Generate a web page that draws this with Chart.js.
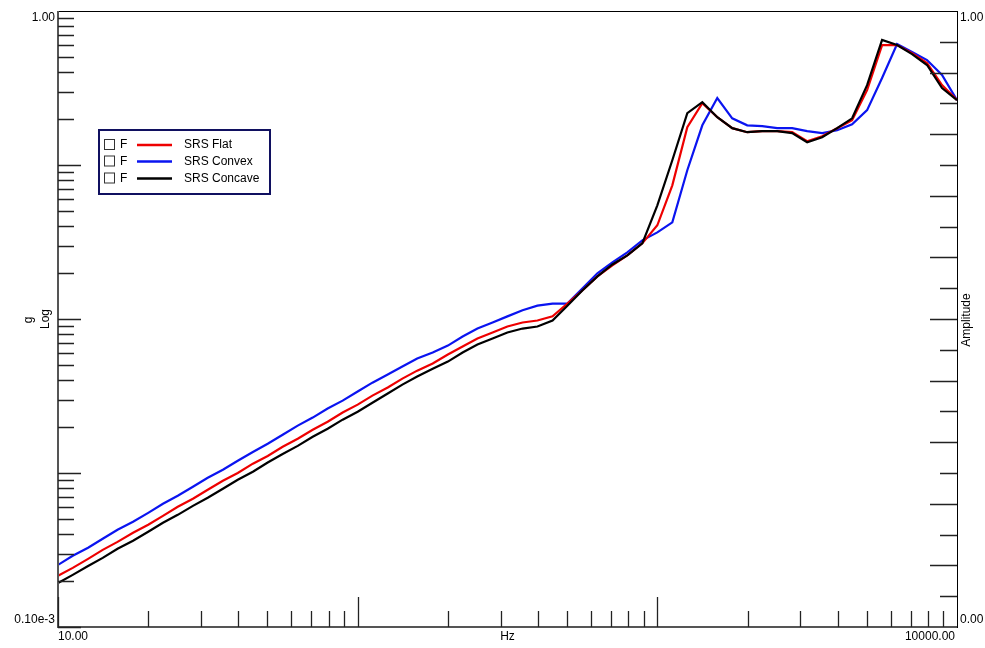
<!DOCTYPE html>
<html><head><meta charset="utf-8">
<script src="https://cdn.jsdelivr.net/npm/chart.js@4.4.1/dist/chart.umd.min.js"></script>
<style>html,body{margin:0;padding:0;background:#fff;}canvas{display:block;}</style>
</head><body>
<canvas id="c" width="985" height="648"></canvas>
<script>
const freqHz = [10, 11.2, 12.6, 14.1, 15.8, 17.8, 20, 22.4, 25.1, 28.2, 31.6, 35.5, 39.8, 44.7, 50.1, 56.2, 63.1, 70.8, 79.4, 89.1,
  100, 112, 126, 141, 158, 178, 200, 224, 251, 282, 316, 355, 398, 447, 501, 562, 631, 708, 794, 891,
  1000, 1122, 1259, 1413, 1585, 1778, 1995, 2239, 2512, 2818, 3162, 3548, 3981, 4467, 5012, 5623, 6310, 7079, 7943, 8913, 10000];
const srsFlat = [2.15e-4, 2.42e-4, 2.77e-4, 3.17e-4, 3.57e-4, 4.09e-4, 4.61e-4, 5.27e-4, 6.03e-4, 6.80e-4, 7.78e-4, 8.90e-4,
  1.00e-3, 1.15e-3, 1.29e-3, 1.48e-3, 1.67e-3, 1.91e-3, 2.15e-3, 2.47e-3, 2.78e-3, 3.18e-3, 3.59e-3, 4.10e-3, 4.62e-3, 5.14e-3,
  5.88e-3, 6.62e-3, 7.47e-3, 8.17e-3, 8.94e-3, 9.49e-3, 9.78e-3, 1.04e-2, 1.26e-2, 1.53e-2, 1.89e-2, 2.23e-2, 2.59e-2, 3.10e-2,
  4.06e-2, 7.38e-2, 0.176, 0.252, 0.2045, 0.1734, 0.1633, 0.1658, 0.1658, 0.1633, 0.1427, 0.1538, 0.1734, 0.1955, 0.306,
  0.601, 0.601, 0.533, 0.459, 0.330, 0.264];
const srsConvex = [2.53e-4, 2.90e-4, 3.27e-4, 3.74e-4, 4.28e-4, 4.82e-4, 5.51e-4, 6.31e-4, 7.11e-4, 8.14e-4, 9.31e-4,
  1.05e-3, 1.20e-3, 1.37e-3, 1.55e-3, 1.77e-3, 2.03e-3, 2.29e-3, 2.62e-3, 2.95e-3, 3.38e-3, 3.86e-3, 4.36e-3, 4.91e-3, 5.54e-3,
  6.06e-3, 6.72e-3, 7.69e-3, 8.67e-3, 9.49e-3, 1.04e-2, 1.14e-2, 1.22e-2, 1.26e-2, 1.26e-2, 1.58e-2, 1.98e-2, 2.33e-2, 2.71e-2,
  3.24e-2, 3.65e-2, 4.24e-2, 9.25e-2, 0.181, 0.272, 0.201, 0.181, 0.179, 0.1734, 0.1734, 0.1658, 0.161, 0.168, 0.184, 0.227,
  0.367, 0.610, 0.541, 0.480, 0.384, 0.264];
const srsConcave = [1.93e-4, 2.18e-4, 2.49e-4, 2.81e-4, 3.22e-4, 3.63e-4, 4.15e-4, 4.75e-4, 5.35e-4, 6.12e-4, 6.90e-4, 7.90e-4, 9.04e-4,
  1.02e-3, 1.17e-3, 1.33e-3, 1.50e-3, 1.72e-3, 1.94e-3, 2.22e-3, 2.50e-3, 2.86e-3, 3.28e-3, 3.75e-3, 4.23e-3, 4.76e-3, 5.29e-3,
  6.06e-3, 6.83e-3, 7.47e-3, 8.17e-3, 8.67e-3, 8.94e-3, 9.78e-3, 1.22e-2, 1.53e-2, 1.89e-2, 2.26e-2, 2.59e-2, 3.10e-2, 5.47e-2,
  0.1074, 0.217, 0.256, 0.2045, 0.1734, 0.1633, 0.1658, 0.1658, 0.161, 0.1406, 0.1515, 0.1734, 0.201, 0.330, 0.648, 0.601,
  0.525, 0.446, 0.316, 0.264];

const seriesNames = ['SRS Flat', 'SRS Convex', 'SRS Concave'];
const seriesColors = ['#ee0000', '#0a14f0', '#000000'];
const leftTickLabels = ['1.00', '0.10e-3'];
const rightTickLabels = ['1.00', '0.00'];
const bottomTickLabels = ['10.00', '10000.00'];
const xTitle = 'Hz', yTitle1 = 'g', yTitle2 = 'Log', y2Title = 'Amplitude';

const toPts = arr => freqHz.map((f, i) => ({x: f, y: arr[i]}));
const FONT = '12px "Liberation Sans", Arial, sans-serif';

const framePlugin = {
  id: 'frame',
  afterDatasetsDraw(chart) {
    const {ctx, chartArea: a, scales: {x, y, y2}} = chart;
    ctx.save();
    // frame
    ctx.strokeStyle = '#000'; ctx.lineWidth = 1;
    ctx.strokeRect(a.left + 0.5, a.top + 0.5, a.right - a.left, a.bottom - a.top);
    ctx.strokeStyle = '#555'; ctx.lineWidth = 2;
    ctx.beginPath();
    ctx.moveTo(a.left, a.top); ctx.lineTo(a.left, a.bottom); ctx.lineTo(a.right, a.bottom);
    ctx.stroke();
    ctx.lineWidth = 1.3; ctx.strokeStyle = '#222';
    ctx.beginPath();
    // left log ticks
    for (let e = -4; e <= -1; e++) {
      for (let m = 1; m <= 9; m++) {
        const v = m * Math.pow(10, e);
        const py = Math.round(y.getPixelForValue(v)) + 0.5;
        const len = m === 1 ? 23 : 16;
        ctx.moveTo(a.left, py); ctx.lineTo(a.left + len, py);
      }
    }
    // bottom log ticks
    for (let e = 1; e <= 3; e++) {
      for (let m = 1; m <= 9; m++) {
        const v = m * Math.pow(10, e);
        const px = Math.round(x.getPixelForValue(v)) + 0.5;
        const len = m === 1 ? 30 : 16;
        ctx.moveTo(px, a.bottom); ctx.lineTo(px, a.bottom - len);
      }
    }
    // right linear ticks
    for (let i = 1; i < 20; i++) {
      const v = i * 0.05;
      const py = Math.round(y2.getPixelForValue(v)) + 0.5;
      const len = (i % 2 === 0) ? 27 : 17;
      ctx.moveTo(a.right, py); ctx.lineTo(a.right - len, py);
    }
    ctx.stroke();

    // labels
    ctx.fillStyle = '#000'; ctx.font = FONT;
    ctx.textBaseline = 'middle';
    ctx.textAlign = 'right';
    ctx.fillText(leftTickLabels[0], a.left - 3, y.getPixelForValue(1) + 7);
    ctx.fillText(leftTickLabels[1], a.left - 3, y.getPixelForValue(1e-4) - 7);
    ctx.textAlign = 'left';
    ctx.fillText(rightTickLabels[0], a.right + 3, y2.getPixelForValue(1) + 7);
    ctx.fillText(rightTickLabels[1], a.right + 3, y2.getPixelForValue(0) - 7);
    ctx.textBaseline = 'top';
    ctx.textAlign = 'left';
    ctx.fillText(bottomTickLabels[0], x.getPixelForValue(10), a.bottom + 4);
    ctx.textAlign = 'right';
    ctx.fillText(bottomTickLabels[1], x.getPixelForValue(10000) - 2, a.bottom + 4);
    ctx.textAlign = 'center';
    ctx.fillText(xTitle, (a.left + a.right) / 2, a.bottom + 4);
    // rotated titles
    const midY = (a.top + a.bottom) / 2;
    const rot = (t, cx, cy) => { ctx.save(); ctx.translate(cx, cy); ctx.rotate(-Math.PI / 2); ctx.textAlign = 'center'; ctx.textBaseline = 'middle'; ctx.fillText(t, 0, 0); ctx.restore(); };
    rot(yTitle1, 29, midY + 1);
    rot(yTitle2, 46, midY);
    rot(y2Title, 967, midY + 1);

    // legend
    const lx = 99, ly = 130, lw = 171, lh = 64;
    ctx.fillStyle = '#fff'; ctx.fillRect(lx, ly, lw, lh);
    ctx.strokeStyle = '#101060'; ctx.lineWidth = 2;
    ctx.strokeRect(lx, ly, lw, lh);
    const rows = [145, 161.5, 178.5];
    ctx.font = FONT; ctx.textBaseline = 'middle'; ctx.textAlign = 'left';
    rows.forEach((ry, i) => {
      ctx.strokeStyle = '#333'; ctx.lineWidth = 1;
      ctx.strokeRect(104.5, ry - 5.5, 10, 10);
      ctx.fillStyle = '#000';
      ctx.fillText('F', 120, ry);
      ctx.strokeStyle = seriesColors[i]; ctx.lineWidth = 2.5;
      ctx.beginPath(); ctx.moveTo(137, ry); ctx.lineTo(172, ry); ctx.stroke();
      ctx.fillStyle = '#000';
      ctx.fillText(seriesNames[i], 184, ry);
    });
    ctx.restore();
  }
};

new Chart(document.getElementById('c'), {
  type: 'line',
  data: {
    datasets: [
      {label: seriesNames[0], data: toPts(srsFlat), borderColor: seriesColors[0], order: 2},
      {label: seriesNames[1], data: toPts(srsConvex), borderColor: seriesColors[1], order: 3},
      {label: seriesNames[2], data: toPts(srsConcave), borderColor: seriesColors[2], order: 1}
    ]
  },
  options: {
    responsive: false, animation: false,
    layout: {padding: {left: 58, right: 28, top: 11, bottom: 21}},
    elements: {point: {radius: 0}, line: {borderWidth: 2.2, tension: 0}},
    plugins: {legend: {display: false}, tooltip: {enabled: false}},
    scales: {
      x: {type: 'logarithmic', min: 10, max: 10000, display: false},
      y: {type: 'logarithmic', min: 1e-4, max: 1, display: false},
      y2: {type: 'linear', min: 0, max: 1, display: false, position: 'right'}
    }
  },
  plugins: [framePlugin]
});
</script>
</body></html>
